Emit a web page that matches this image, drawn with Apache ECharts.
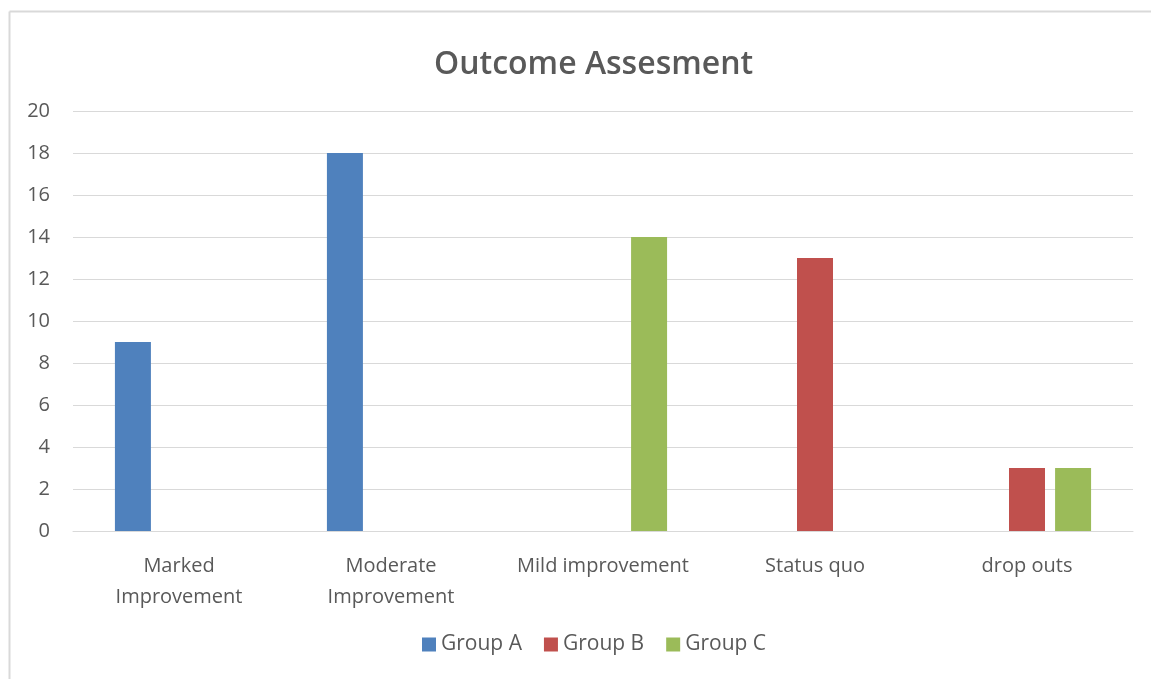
<!DOCTYPE html>
<html>
<head>
<meta charset="utf-8">
<script src="https://cdn.jsdelivr.net/npm/echarts@6/dist/echarts.min.js"></script>
<style>
  html, body { margin: 0; padding: 0; background: #fff; }
  #box { width: 1151px; height: 679px; }
</style>
</head>
<body>
<div id="box"></div>
<script>
const categories = ['Marked\nImprovement', 'Moderate\nImprovement', 'Mild improvement', 'Status quo', 'drop outs'];
const groupA = [9, 18, 0, 0, 0];
const groupB = [0, 0, 0, 13, 3];
const groupC = [0, 0, 14, 0, 3];
const seriesNames = ['Group A', 'Group B', 'Group C'];
const colors = ['#4F81BD', '#C0504D', '#9BBB59'];

const textColor = '#595959';
const font = '"Open Sans", "Liberation Sans", sans-serif';

let myChart = echarts.init(document.getElementById('box'));

let option = {
    animation: false,
    color: colors,
    title: {
        text: 'Outcome Assesment',
        left: 429,
        top: 44,
        textStyle: { color: textColor, fontSize: 32, fontWeight: 600, fontFamily: font }
    },
    legend: {
        bottom: 19,
        left: 417,
        itemWidth: 14,
        itemHeight: 14,
        itemGap: 22,
        icon: 'rect',
        textStyle: { color: textColor, fontSize: 21, fontFamily: font },
        data: seriesNames
    },
    grid: { left: 73, right: 18, top: 111, bottom: 148 },
    xAxis: {
        type: 'category',
        data: categories,
        axisLine: { lineStyle: { color: '#d9d9d9' } },
        axisTick: { show: false },
        axisLabel: { color: textColor, fontSize: 20, fontFamily: font, margin: 20, lineHeight: 31, interval: 0 }
    },
    yAxis: {
        type: 'value',
        min: 0,
        max: 20,
        interval: 2,
        axisLine: { show: false },
        axisTick: { show: false },
        splitLine: { lineStyle: { color: '#d9d9d9', width: 1 } },
        axisLabel: { color: textColor, fontSize: 20, fontFamily: font, margin: 23 }
    },
    series: [
        { name: seriesNames[0], type: 'bar', data: groupA, barWidth: 36, barGap: '28%' },
        { name: seriesNames[1], type: 'bar', data: groupB, barWidth: 36, barGap: '28%' },
        { name: seriesNames[2], type: 'bar', data: groupC, barWidth: 36, barGap: '28%' }
    ],
    graphic: [
        { type: 'line', shape: { x1: 9.5, y1: 11.5, x2: 9.5, y2: 679 }, style: { stroke: '#d9d9d9', lineWidth: 2 } },
        { type: 'line', shape: { x1: 9.5, y1: 11.5, x2: 1151, y2: 11.5 }, style: { stroke: '#d9d9d9', lineWidth: 2 } }
    ]
};
myChart.setOption(option);
</script>
</body>
</html>
